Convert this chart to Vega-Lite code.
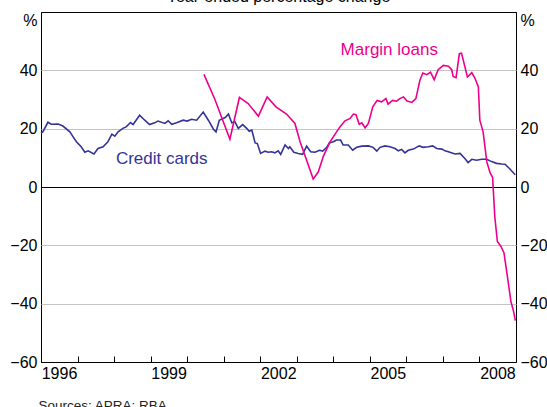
{
  "$schema": "https://vega.github.io/schema/vega-lite/v6.json",
  "width": 475,
  "height": 350,
  "autosize": {"type": "none"},
  "padding": {"left": 41, "top": 12, "right": 31, "bottom": 45},
  "title": {"text": "Year-ended percentage change", "fontSize": 16, "font": "Liberation Sans", "fontWeight": "normal", "color": "black", "anchor": "middle", "baseline": "alphabetic", "offset": -6},
  "config": {
    "view": {"stroke": "black", "strokeWidth": 1},
    "font": "Liberation Sans",
    "axis": {"labelFont": "Liberation Sans", "labelColor": "black", "labelFontSize": 16, "titleFont": "Liberation Sans"},
    "axisX": {"labelOverlap": false}
  },
  "datasets": {
    "cc": [
      {"series":"Credit cards","year":1996.00,"value":18.5},
      {"series":"Credit cards","year":1996.05,"value":18.9},
      {"series":"Credit cards","year":1996.19,"value":22.2},
      {"series":"Credit cards","year":1996.28,"value":21.5},
      {"series":"Credit cards","year":1996.47,"value":21.6},
      {"series":"Credit cards","year":1996.60,"value":20.9},
      {"series":"Credit cards","year":1996.79,"value":18.9},
      {"series":"Credit cards","year":1996.88,"value":17.2},
      {"series":"Credit cards","year":1996.97,"value":15.5},
      {"series":"Credit cards","year":1997.10,"value":13.8},
      {"series":"Credit cards","year":1997.20,"value":11.9},
      {"series":"Credit cards","year":1997.29,"value":12.4},
      {"series":"Credit cards","year":1997.45,"value":11.3},
      {"series":"Credit cards","year":1997.56,"value":13.2},
      {"series":"Credit cards","year":1997.70,"value":13.8},
      {"series":"Credit cards","year":1997.83,"value":15.5},
      {"series":"Credit cards","year":1997.94,"value":18.1},
      {"series":"Credit cards","year":1998.02,"value":17.4},
      {"series":"Credit cards","year":1998.11,"value":18.9},
      {"series":"Credit cards","year":1998.24,"value":20.1},
      {"series":"Credit cards","year":1998.33,"value":20.6},
      {"series":"Credit cards","year":1998.45,"value":22.1},
      {"series":"Credit cards","year":1998.52,"value":21.4},
      {"series":"Credit cards","year":1998.70,"value":24.6},
      {"series":"Credit cards","year":1998.84,"value":22.9},
      {"series":"Credit cards","year":1998.97,"value":21.4},
      {"series":"Credit cards","year":1999.11,"value":22.0},
      {"series":"Credit cards","year":1999.20,"value":22.6},
      {"series":"Credit cards","year":1999.39,"value":21.8},
      {"series":"Credit cards","year":1999.48,"value":22.7},
      {"series":"Credit cards","year":1999.58,"value":21.5},
      {"series":"Credit cards","year":1999.71,"value":22.0},
      {"series":"Credit cards","year":1999.89,"value":22.9},
      {"series":"Credit cards","year":2000.00,"value":22.6},
      {"series":"Credit cards","year":2000.12,"value":23.2},
      {"series":"Credit cards","year":2000.26,"value":22.9},
      {"series":"Credit cards","year":2000.44,"value":25.7},
      {"series":"Credit cards","year":2000.58,"value":22.9},
      {"series":"Credit cards","year":2000.72,"value":19.8},
      {"series":"Credit cards","year":2000.79,"value":18.9},
      {"series":"Credit cards","year":2000.88,"value":22.9},
      {"series":"Credit cards","year":2001.04,"value":23.8},
      {"series":"Credit cards","year":2001.13,"value":25.0},
      {"series":"Credit cards","year":2001.22,"value":22.0},
      {"series":"Credit cards","year":2001.31,"value":22.3},
      {"series":"Credit cards","year":2001.40,"value":20.1},
      {"series":"Credit cards","year":2001.52,"value":21.4},
      {"series":"Credit cards","year":2001.63,"value":20.1},
      {"series":"Credit cards","year":2001.70,"value":19.1},
      {"series":"Credit cards","year":2001.77,"value":19.5},
      {"series":"Credit cards","year":2001.86,"value":15.1},
      {"series":"Credit cards","year":2001.92,"value":14.9},
      {"series":"Credit cards","year":2002.01,"value":11.5},
      {"series":"Credit cards","year":2002.13,"value":12.3},
      {"series":"Credit cards","year":2002.22,"value":11.9},
      {"series":"Credit cards","year":2002.31,"value":12.1},
      {"series":"Credit cards","year":2002.40,"value":11.7},
      {"series":"Credit cards","year":2002.49,"value":12.4},
      {"series":"Credit cards","year":2002.56,"value":11.2},
      {"series":"Credit cards","year":2002.68,"value":14.4},
      {"series":"Credit cards","year":2002.77,"value":13.2},
      {"series":"Credit cards","year":2002.81,"value":13.8},
      {"series":"Credit cards","year":2002.92,"value":11.9},
      {"series":"Credit cards","year":2003.04,"value":11.5},
      {"series":"Credit cards","year":2003.16,"value":11.2},
      {"series":"Credit cards","year":2003.27,"value":14.0},
      {"series":"Credit cards","year":2003.38,"value":12.1},
      {"series":"Credit cards","year":2003.50,"value":11.9},
      {"series":"Credit cards","year":2003.62,"value":12.6},
      {"series":"Credit cards","year":2003.71,"value":12.3},
      {"series":"Credit cards","year":2003.82,"value":13.6},
      {"series":"Credit cards","year":2003.89,"value":15.1},
      {"series":"Credit cards","year":2004.00,"value":15.5},
      {"series":"Credit cards","year":2004.09,"value":16.1},
      {"series":"Credit cards","year":2004.20,"value":16.1},
      {"series":"Credit cards","year":2004.27,"value":14.4},
      {"series":"Credit cards","year":2004.41,"value":14.4},
      {"series":"Credit cards","year":2004.53,"value":12.6},
      {"series":"Credit cards","year":2004.64,"value":13.6},
      {"series":"Credit cards","year":2004.78,"value":14.0},
      {"series":"Credit cards","year":2004.96,"value":14.1},
      {"series":"Credit cards","year":2005.09,"value":13.6},
      {"series":"Credit cards","year":2005.19,"value":12.3},
      {"series":"Credit cards","year":2005.28,"value":13.6},
      {"series":"Credit cards","year":2005.41,"value":14.1},
      {"series":"Credit cards","year":2005.55,"value":13.8},
      {"series":"Credit cards","year":2005.69,"value":13.2},
      {"series":"Credit cards","year":2005.78,"value":12.4},
      {"series":"Credit cards","year":2005.87,"value":12.9},
      {"series":"Credit cards","year":2005.96,"value":11.7},
      {"series":"Credit cards","year":2006.05,"value":12.6},
      {"series":"Credit cards","year":2006.19,"value":13.0},
      {"series":"Credit cards","year":2006.35,"value":14.1},
      {"series":"Credit cards","year":2006.46,"value":13.6},
      {"series":"Credit cards","year":2006.60,"value":13.8},
      {"series":"Credit cards","year":2006.72,"value":14.1},
      {"series":"Credit cards","year":2006.83,"value":13.2},
      {"series":"Credit cards","year":2006.97,"value":13.0},
      {"series":"Credit cards","year":2007.06,"value":12.4},
      {"series":"Credit cards","year":2007.19,"value":11.9},
      {"series":"Credit cards","year":2007.33,"value":11.3},
      {"series":"Credit cards","year":2007.47,"value":11.5},
      {"series":"Credit cards","year":2007.60,"value":9.8},
      {"series":"Credit cards","year":2007.69,"value":8.4},
      {"series":"Credit cards","year":2007.79,"value":9.5},
      {"series":"Credit cards","year":2007.92,"value":9.2},
      {"series":"Credit cards","year":2008.06,"value":9.5},
      {"series":"Credit cards","year":2008.20,"value":9.5},
      {"series":"Credit cards","year":2008.33,"value":8.7},
      {"series":"Credit cards","year":2008.47,"value":8.1},
      {"series":"Credit cards","year":2008.61,"value":7.9},
      {"series":"Credit cards","year":2008.70,"value":7.8},
      {"series":"Credit cards","year":2008.84,"value":6.1},
      {"series":"Credit cards","year":2008.94,"value":4.7},
      {"series":"Credit cards","year":2008.98,"value":4.2},
      {"series":"Margin loans","year":2000.46,"value":38.6},
      {"series":"Margin loans","year":2000.76,"value":30.0},
      {"series":"Margin loans","year":2001.17,"value":16.4},
      {"series":"Margin loans","year":2001.43,"value":30.7},
      {"series":"Margin loans","year":2001.67,"value":28.6},
      {"series":"Margin loans","year":2001.95,"value":24.3},
      {"series":"Margin loans","year":2002.19,"value":30.9},
      {"series":"Margin loans","year":2002.43,"value":27.5},
      {"series":"Margin loans","year":2002.72,"value":25.0},
      {"series":"Margin loans","year":2002.95,"value":21.8},
      {"series":"Margin loans","year":2003.09,"value":15.5},
      {"series":"Margin loans","year":2003.27,"value":9.2},
      {"series":"Margin loans","year":2003.45,"value":2.7},
      {"series":"Margin loans","year":2003.59,"value":5.2},
      {"series":"Margin loans","year":2003.73,"value":10.6},
      {"series":"Margin loans","year":2003.91,"value":15.5},
      {"series":"Margin loans","year":2004.18,"value":20.6},
      {"series":"Margin loans","year":2004.32,"value":22.7},
      {"series":"Margin loans","year":2004.46,"value":23.5},
      {"series":"Margin loans","year":2004.55,"value":25.0},
      {"series":"Margin loans","year":2004.62,"value":24.8},
      {"series":"Margin loans","year":2004.71,"value":21.5},
      {"series":"Margin loans","year":2004.78,"value":22.0},
      {"series":"Margin loans","year":2004.87,"value":20.3},
      {"series":"Margin loans","year":2004.96,"value":21.8},
      {"series":"Margin loans","year":2005.08,"value":27.5},
      {"series":"Margin loans","year":2005.20,"value":29.7},
      {"series":"Margin loans","year":2005.32,"value":29.2},
      {"series":"Margin loans","year":2005.44,"value":30.3},
      {"series":"Margin loans","year":2005.50,"value":28.4},
      {"series":"Margin loans","year":2005.62,"value":29.7},
      {"series":"Margin loans","year":2005.73,"value":29.4},
      {"series":"Margin loans","year":2005.82,"value":30.3},
      {"series":"Margin loans","year":2005.92,"value":30.9},
      {"series":"Margin loans","year":2006.02,"value":29.5},
      {"series":"Margin loans","year":2006.15,"value":29.0},
      {"series":"Margin loans","year":2006.26,"value":30.3},
      {"series":"Margin loans","year":2006.37,"value":36.6},
      {"series":"Margin loans","year":2006.45,"value":39.1},
      {"series":"Margin loans","year":2006.56,"value":38.5},
      {"series":"Margin loans","year":2006.66,"value":39.4},
      {"series":"Margin loans","year":2006.76,"value":36.8},
      {"series":"Margin loans","year":2006.87,"value":40.2},
      {"series":"Margin loans","year":2007.01,"value":41.7},
      {"series":"Margin loans","year":2007.15,"value":41.4},
      {"series":"Margin loans","year":2007.24,"value":40.2},
      {"series":"Margin loans","year":2007.28,"value":37.9},
      {"series":"Margin loans","year":2007.36,"value":37.5},
      {"series":"Margin loans","year":2007.45,"value":45.7},
      {"series":"Margin loans","year":2007.51,"value":45.9},
      {"series":"Margin loans","year":2007.58,"value":42.3},
      {"series":"Margin loans","year":2007.67,"value":37.7},
      {"series":"Margin loans","year":2007.79,"value":39.2},
      {"series":"Margin loans","year":2007.88,"value":37.2},
      {"series":"Margin loans","year":2007.97,"value":34.3},
      {"series":"Margin loans","year":2008.01,"value":22.9},
      {"series":"Margin loans","year":2008.10,"value":18.9},
      {"series":"Margin loans","year":2008.20,"value":8.7},
      {"series":"Margin loans","year":2008.29,"value":4.9},
      {"series":"Margin loans","year":2008.36,"value":3.3},
      {"series":"Margin loans","year":2008.42,"value":-10.2},
      {"series":"Margin loans","year":2008.49,"value":-18.7},
      {"series":"Margin loans","year":2008.58,"value":-20.2},
      {"series":"Margin loans","year":2008.67,"value":-22.5},
      {"series":"Margin loans","year":2008.79,"value":-32.9},
      {"series":"Margin loans","year":2008.86,"value":-39.2},
      {"series":"Margin loans","year":2008.94,"value":-43.0},
      {"series":"Margin loans","year":2008.98,"value":-45.8}
    ],
    "labels": [
      {"series":"Credit cards","label":"Credit cards","year":1998.05,"value":7.8},
      {"series":"Margin loans","label":"Margin loans","year":2004.2,"value":45.1}
    ]
  },
  "layer": [
    {
      "data": {"name": "cc"},
      "mark": {"type": "line", "strokeWidth": 1.6},
      "encoding": {
        "x": {
          "field": "year", "type": "quantitative",
          "scale": {"domain": [1996, 2009], "nice": false, "zero": false},
          "axis": {
            "values": [1996,1997,1998,1999,2000,2001,2002,2003,2004,2005,2006,2007,2008],
            "format": "d",
            "labelExpr": "(datum.value - 1996) % 3 == 0 ? datum.label : ''",
            "labelOverlap": false,
            "labelOffset": 18,
            "labelPadding": 9,
            "labelFlush": false,
            "tickSize": -6,
            "tickColor": "black",
            "domain": false,
            "grid": false,
            "title": "Sources: APRA; RBA",
            "titleFontSize": 13.5,
            "titleFontWeight": "normal",
            "titleColor": "#222222",
            "titleAnchor": "start",
            "titleAlign": "left",
            "titleBaseline": "top",
            "titleX": -3,
            "titleY": 36
          }
        },
        "y": {
          "field": "value", "type": "quantitative",
          "scale": {"domain": [-60, 60], "nice": false, "zero": false},
          "axis": {
            "orient": "left",
            "values": [-60,-40,-20,0,20,40,60],
            "labelExpr": "datum.value == 60 ? '%' : datum.label",
            "labelBaseline": {"condition": {"test": "datum.value == 60", "value": "top"}, "value": "middle"},
            "ticks": false,
            "domain": false,
            "labelPadding": 4,
            "grid": true,
            "gridColor": {"condition": {"test": "abs(datum.value) == 20 || abs(datum.value) == 40", "value": "#c4c4c4"}, "value": "black"},
            "gridWidth": 1,
            "title": null
          }
        },
        "color": {
          "field": "series", "type": "nominal",
          "scale": {"domain": ["Credit cards", "Margin loans"], "range": ["#333399", "#ec008c"]},
          "legend": null
        }
      }
    },
    {
      "data": {"name": "labels"},
      "mark": {"type": "text", "align": "left", "baseline": "alphabetic", "fontSize": 17, "font": "Liberation Sans"},
      "encoding": {
        "x": {
          "field": "year", "type": "quantitative",
          "axis": {
            "values": [1996,1997,1998,1999,2000,2001,2002,2003,2004,2005,2006,2007,2008],
            "format": "d",
            "labelExpr": "(datum.value - 1996) % 3 == 0 ? datum.label : ''",
            "labelOverlap": false,
            "labelOffset": 18,
            "labelPadding": 9,
            "labelFlush": false,
            "tickSize": -6,
            "tickColor": "black",
            "domain": false,
            "grid": false,
            "title": "Sources: APRA; RBA",
            "titleFontSize": 13.5,
            "titleFontWeight": "normal",
            "titleColor": "#222222",
            "titleAnchor": "start",
            "titleAlign": "left",
            "titleBaseline": "top",
            "titleX": -3,
            "titleY": 36
          }
        },
        "y": {
          "field": "value", "type": "quantitative",
          "axis": {
            "orient": "right",
            "values": [-60,-40,-20,0,20,40,60],
            "labelExpr": "datum.value == 60 ? '%' : datum.label",
            "labelBaseline": {"condition": {"test": "datum.value == 60", "value": "top"}, "value": "middle"},
            "ticks": false,
            "domain": false,
            "grid": false,
            "labelPadding": 4,
            "title": null
          }
        },
        "text": {"field": "label"},
        "color": {"field": "series", "type": "nominal", "legend": null}
      }
    }
  ],
  "resolve": {"axis": {"y": "independent"}}
}
